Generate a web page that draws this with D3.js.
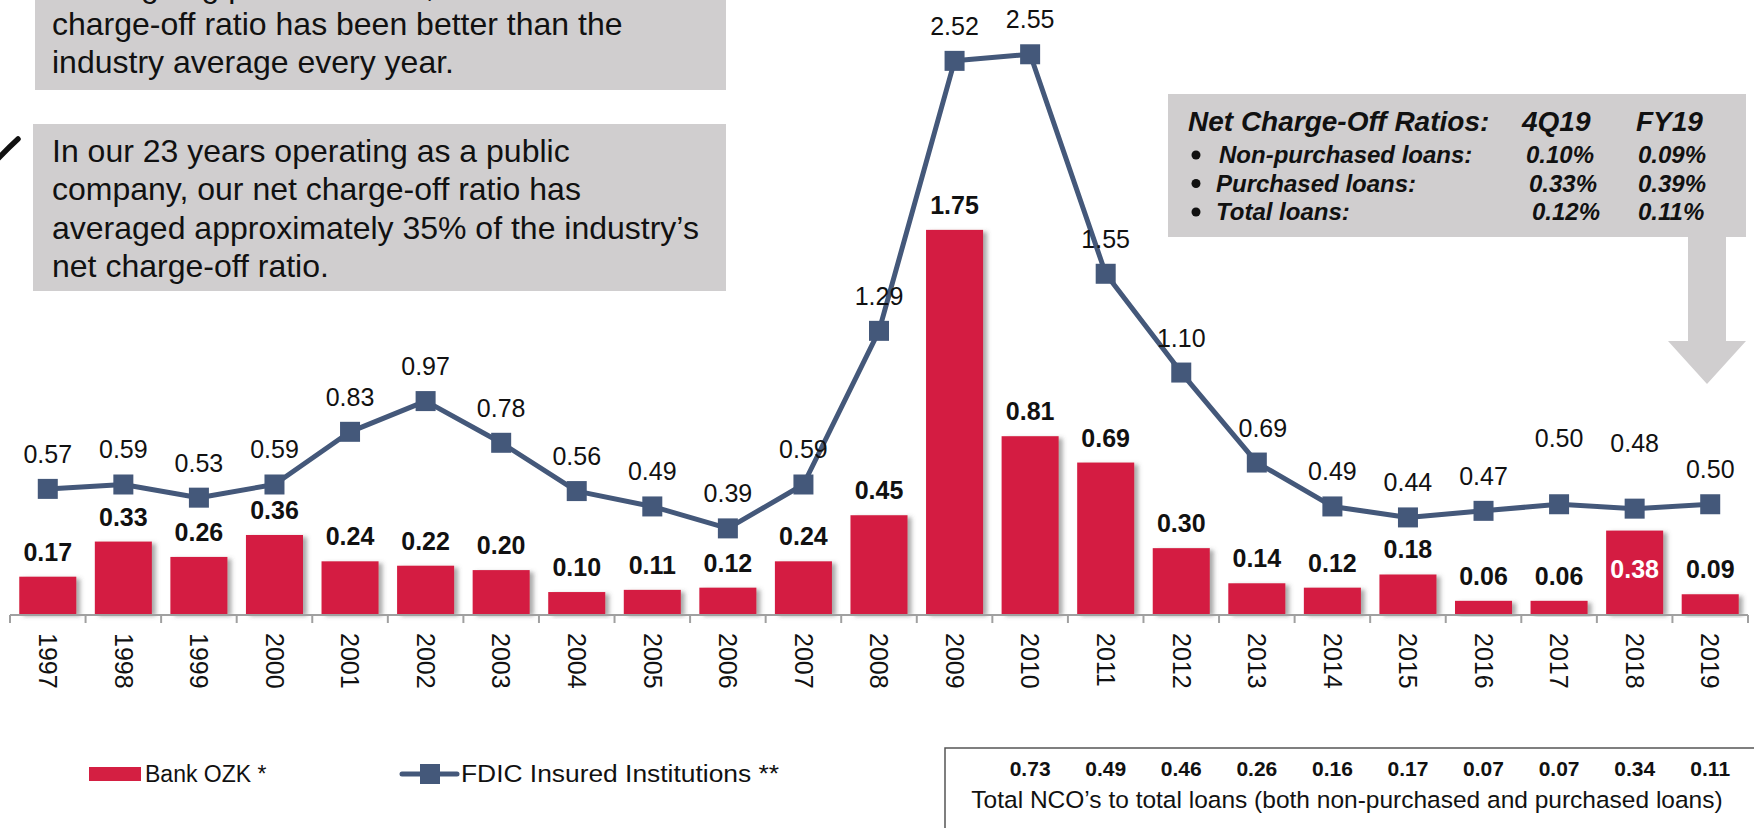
<!DOCTYPE html>
<html>
<head>
<meta charset="utf-8">
<script src="https://cdn.jsdelivr.net/npm/d3@7"></script>
<style>
  body { margin: 0; background: #fff; }
  svg { display: block; font-family: "Liberation Sans", Arial, sans-serif; }
</style>
</head>
<body>
<div id="chart"></div>
<script>
// chart data
const years = ["1997","1998","1999","2000","2001","2002","2003","2004","2005","2006","2007","2008",
               "2009","2010","2011","2012","2013","2014","2015","2016","2017","2018","2019"];
const ozkValues = [0.17,0.33,0.26,0.36,0.24,0.22,0.20,0.10,0.11,0.12,0.24,0.45,
                   1.75,0.81,0.69,0.30,0.14,0.12,0.18,0.06,0.06,0.38,0.09];
const fdicValues = [0.57,0.59,0.53,0.59,0.83,0.97,0.78,0.56,0.49,0.39,0.59,1.29,
                    2.52,2.55,1.55,1.10,0.69,0.49,0.44,0.47,0.50,0.48,0.50];
// total NCO row, shown under 2010-2019
const totalYears = ["2010","2011","2012","2013","2014","2015","2016","2017","2018","2019"];
const totalValues = ["0.73","0.49","0.46","0.26","0.16","0.17","0.07","0.07","0.34","0.11"];
// labels placed higher / inside bar
const raisedLabels = ["2017","2018"];
const insideLabels = ["2018"];

const tableRows = ["Non-purchased loans:","Purchased loans:","Total loans:"];
const table4Q = ["0.10%","0.33%","0.12%"];
const tableFY = ["0.09%","0.39%","0.11%"];

const width = 1754;
const height = 828;
const barColor = "#d41f42";
const lineColor = "#44587a";
const boxGray = "#d0cecf";

const svg = d3.select("#chart")
  .append("svg")
  .attr("width", width)
  .attr("height", height);

const defs = svg.append("defs");
const shadow = defs.append("filter").attr("id", "shadow")
  .attr("x", "-20%").attr("y", "-20%").attr("width", "150%").attr("height", "140%");
shadow.append("feDropShadow")
  .attr("dx", 4).attr("dy", 2).attr("stdDeviation", 2)
  .attr("flood-color", "#555").attr("flood-opacity", 0.5);

const x = d3.scaleBand()
  .domain(years)
  .range([10, 1748])
  .paddingInner(0.245)
  .paddingOuter(0.1225);

const y = d3.scaleLinear()
  .domain([0, 2.8])
  .range([614, 614 - 2.8 * 219.5]);

const step = x.step();
const cx = d => x(d) + x.bandwidth() / 2;

// ---- text boxes top-left ----
svg.append("rect").attr("x", 35).attr("y", -10).attr("width", 691).attr("height", 100).attr("fill", boxGray);
const box1 = ["Since going public in 1997, our net",
              "charge-off ratio has been better than the",
              "industry average every year."];
svg.append("g").selectAll("text")
  .data(box1)
  .enter().append("text")
    .attr("x", 52)
    .attr("y", (d, i) => -3 + i * 38)
    .attr("font-size", 32)
    .attr("fill", "#111")
    .text(d => d);

svg.append("rect").attr("x", 33).attr("y", 124).attr("width", 693).attr("height", 167).attr("fill", boxGray);
const box2 = ["In our 23 years operating as a public",
              "company, our net charge-off ratio has",
              "averaged approximately 35% of the industry\u2019s",
              "net charge-off ratio."];
svg.append("g").selectAll("text")
  .data(box2)
  .enter().append("text")
    .attr("x", 52)
    .attr("y", (d, i) => 162 + i * 38.3)
    .attr("font-size", 32)
    .attr("fill", "#111")
    .text(d => d);

// check mark stub on left edge
svg.append("path")
  .attr("d", "M-6,163 Q6,150 18,139")
  .attr("stroke", "#111").attr("stroke-width", 5.5).attr("stroke-linecap", "round").attr("fill", "none");

// ---- NCO ratio box with arrow ----
svg.append("rect").attr("x", 1168).attr("y", 94).attr("width", 578).attr("height", 143).attr("fill", boxGray);
svg.append("path")
  .attr("d", "M1688,237 L1726,237 L1726,341 L1746,341 L1707,384 L1668,341 L1688,341 Z")
  .attr("fill", boxGray);

const tbl = svg.append("g").attr("font-weight", "bold").attr("font-style", "italic").attr("fill", "#111");
tbl.append("text").attr("x", 1188).attr("y", 131).attr("font-size", 28).text("Net Charge-Off Ratios:");
tbl.append("text").attr("x", 1522).attr("y", 131).attr("font-size", 28).text("4Q19");
tbl.append("text").attr("x", 1636).attr("y", 131).attr("font-size", 28).text("FY19");
tableRows.forEach((r, i) => {
  const by = 163 + i * 28.5;
  tbl.append("circle").attr("cx", 1196).attr("cy", by - 8).attr("r", 4.5).attr("fill", "#111");
  tbl.append("text").attr("x", i === 0 ? 1219 : 1216).attr("y", by).attr("font-size", 24).text(r);
  tbl.append("text").attr("x", 1526 + i * 3).attr("y", by).attr("font-size", 24).text(table4Q[i]);
  tbl.append("text").attr("x", 1638).attr("y", by).attr("font-size", 24).text(tableFY[i]);
});

// ---- bars ----
svg.append("g").selectAll("rect")
  .data(years)
  .enter().append("rect")
    .attr("x", d => x(d))
    .attr("y", (d, i) => y(ozkValues[i]))
    .attr("width", x.bandwidth())
    .attr("height", (d, i) => y(0) - y(ozkValues[i]))
    .attr("fill", barColor)
    .attr("filter", "url(#shadow)");

// ---- axis ----
const axis = svg.append("g").attr("stroke", "#a0a0a0").attr("stroke-width", 2);
axis.append("line").attr("x1", 10).attr("x2", 1748).attr("y1", y(0) + 1).attr("y2", y(0) + 1);
axis.selectAll(".tick")
  .data(years.concat(["end"]))
  .enter().append("line")
    .attr("x1", (d, i) => 10 + i * step)
    .attr("x2", (d, i) => 10 + i * step)
    .attr("y1", y(0) + 1)
    .attr("y2", y(0) + 9);

svg.append("g").selectAll("text")
  .data(years)
  .enter().append("text")
    .attr("transform", d => `translate(${cx(d)},633) rotate(90)`)
    .attr("dy", "0.35em")
    .attr("font-size", 25)
    .attr("fill", "#111")
    .text(d => d);

// ---- bar labels ----
svg.append("g").selectAll("text")
  .data(years)
  .enter().append("text")
    .attr("x", d => cx(d))
    .attr("y", (d, i) => insideLabels.includes(d) ? y(ozkValues[i]) + 47 : y(ozkValues[i]) - 16)
    .attr("text-anchor", "middle")
    .attr("font-size", 25)
    .attr("font-weight", "bold")
    .attr("fill", d => insideLabels.includes(d) ? "#fff" : "#111")
    .text((d, i) => ozkValues[i].toFixed(2));

// ---- FDIC line ----
const line = d3.line()
  .x((d, i) => cx(years[i]))
  .y(d => y(d));

svg.append("path")
  .datum(fdicValues)
  .attr("d", line)
  .attr("fill", "none")
  .attr("stroke", lineColor)
  .attr("stroke-width", 5)
  .attr("stroke-linejoin", "round");

svg.append("g").selectAll("rect")
  .data(fdicValues)
  .enter().append("rect")
    .attr("x", (d, i) => cx(years[i]) - 10)
    .attr("y", d => y(d) - 10)
    .attr("width", 20)
    .attr("height", 20)
    .attr("fill", lineColor);

svg.append("g").selectAll("text")
  .data(fdicValues)
  .enter().append("text")
    .attr("x", (d, i) => cx(years[i]) + (years[i] === "2013" ? 6 : 0))
    .attr("y", (d, i) => raisedLabels.includes(years[i]) ? y(d) - 57 : y(d) - 26)
    .attr("text-anchor", "middle")
    .attr("font-size", 25)
    .attr("fill", "#111")
    .text(d => d.toFixed(2));

// ---- legend ----
const legend = svg.append("g").attr("font-size", 23).attr("fill", "#111");
legend.append("rect").attr("x", 89).attr("y", 767).attr("width", 52).attr("height", 14).attr("fill", barColor);
legend.append("text").attr("x", 145).attr("y", 782).text("Bank OZK *");
legend.append("line").attr("x1", 402).attr("x2", 457).attr("y1", 774).attr("y2", 774)
  .attr("stroke", lineColor).attr("stroke-width", 5).attr("stroke-linecap", "round");
legend.append("rect").attr("x", 420).attr("y", 764).attr("width", 20).attr("height", 20).attr("fill", lineColor);
legend.append("text").attr("x", 461).attr("y", 782)
  .attr("textLength", 318).attr("lengthAdjust", "spacingAndGlyphs")
  .text("FDIC Insured Institutions **");

// ---- total NCO table ----
svg.append("rect")
  .attr("x", 945).attr("y", 748).attr("width", 830).attr("height", 100)
  .attr("fill", "#fff").attr("stroke", "#555").attr("stroke-width", 1.5);
svg.append("g").selectAll("text")
  .data(totalYears)
  .enter().append("text")
    .attr("x", d => cx(d))
    .attr("y", 776)
    .attr("text-anchor", "middle")
    .attr("font-size", 21)
    .attr("font-weight", "bold")
    .attr("fill", "#111")
    .text((d, i) => totalValues[i]);
svg.append("text")
  .attr("x", 1347).attr("y", 808)
  .attr("text-anchor", "middle")
  .attr("font-size", 24.5)
  .attr("fill", "#111")
  .text("Total NCO\u2019s to total loans (both non-purchased and purchased loans)");
</script>
</body>
</html>
